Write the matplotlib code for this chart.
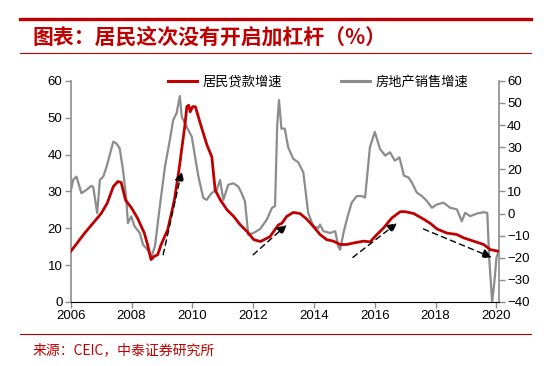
import matplotlib
matplotlib.use("Agg")
import matplotlib.pyplot as plt
from matplotlib.lines import Line2D

# 居民贷款增速 (左轴, %)
loan_t = [2006.00, 2006.46, 2007.00, 2007.20, 2007.40, 2007.55, 2007.66, 2007.80, 2008.00,
          2008.20, 2008.42, 2008.53, 2008.64, 2008.75, 2008.86, 2008.97, 2009.19, 2009.41,
          2009.56, 2009.66, 2009.75, 2009.82, 2009.88, 2009.93, 2010.01, 2010.10, 2010.26,
          2010.48, 2010.64, 2010.75, 2010.92, 2011.14, 2011.36, 2011.58, 2011.80, 2012.02,
          2012.24, 2012.55, 2012.83, 2012.95, 2013.10, 2013.32, 2013.54, 2013.76, 2013.98,
          2014.20, 2014.42, 2014.64, 2014.86, 2015.08, 2015.30, 2015.63, 2015.85, 2016.01,
          2016.29, 2016.56, 2016.84, 2017.00, 2017.28, 2017.60, 2017.83, 2018.05, 2018.37,
          2018.70, 2018.92, 2019.25, 2019.58, 2019.80, 2020.04]
loan_v = [13.7, 18.7, 24.0, 26.8, 31.3, 32.7, 32.4, 27.7, 25.5,
          22.7, 18.7, 15.5, 11.5, 12.4, 12.8, 15.5, 19.6, 27.7,
          35.8, 42.1, 47.6, 53.0, 53.4, 51.6, 53.0, 53.0, 48.5,
          42.6, 39.4, 30.4, 27.7, 25.0, 23.2, 20.9, 19.1, 16.9,
          16.4, 17.7, 20.9, 21.4, 23.2, 24.3, 24.0, 22.5, 20.5,
          18.3, 16.9, 16.5, 15.6, 15.6, 16.0, 16.5, 16.3, 17.8,
          20.1, 22.8, 24.5, 24.5, 24.0, 22.5, 21.3, 19.8, 18.7,
          18.3, 17.4, 16.5, 15.6, 14.2, 13.8]

# 房地产销售增速 (右轴, %)
sale_t = [2006.00, 2006.08, 2006.19, 2006.35, 2006.52, 2006.68, 2006.74, 2006.87, 2006.96,
          2007.07, 2007.18, 2007.40, 2007.50, 2007.61, 2007.72, 2007.83, 2007.88, 2007.99,
          2008.10, 2008.27, 2008.38, 2008.49, 2008.66, 2008.77, 2008.93, 2009.10, 2009.26,
          2009.37, 2009.48, 2009.59, 2009.65, 2009.81, 2009.98, 2010.09, 2010.20, 2010.36,
          2010.47, 2010.63, 2010.80, 2010.91, 2011.02, 2011.18, 2011.35, 2011.51, 2011.62,
          2011.73, 2011.84, 2012.01, 2012.23, 2012.45, 2012.62, 2012.72, 2012.79, 2012.85,
          2012.93, 2013.04, 2013.15, 2013.32, 2013.48, 2013.65, 2013.81, 2013.98, 2014.14,
          2014.20, 2014.31, 2014.53, 2014.70, 2014.80, 2014.86, 2014.97, 2015.08, 2015.24,
          2015.41, 2015.57, 2015.68, 2015.74, 2015.84, 2016.00, 2016.17, 2016.34, 2016.50,
          2016.66, 2016.81, 2016.96, 2017.11, 2017.22, 2017.38, 2017.55, 2017.71, 2017.88,
          2018.04, 2018.26, 2018.48, 2018.70, 2018.86, 2018.97, 2019.14, 2019.36, 2019.58,
          2019.70, 2019.76, 2019.86, 2019.94, 2020.00, 2020.05]
sale_v = [10.0, 15.2, 16.7, 9.2, 10.7, 12.5, 12.0, 0.2, 15.2,
          16.7, 21.2, 32.5, 31.7, 29.5, 19.7, 6.2, -4.3, -1.3,
          -5.8, -8.8, -14.2, -15.7, -19.3, -14.8, 3.2, 21.2, 33.3,
          42.3, 45.3, 53.1, 43.8, 39.3, 34.8, 25.7, 16.7, 7.0,
          6.2, 9.2, 10.7, 15.2, 6.2, 13.0, 13.7, 12.2, 9.2,
          5.5, -9.6, -8.8, -7.0, -2.7, 2.6, 3.4, 39.9, 51.3,
          38.4, 38.4, 30.0, 24.7, 23.2, 18.6, 0.3, -5.8, -6.5,
          -5.0, -8.0, -8.8, -8.0, -14.9, -16.4, -8.8, -2.7, 4.9,
          7.9, 7.9, 7.2, 15.6, 30.0, 36.9, 29.3, 26.2, 27.7,
          23.9, 25.4, 17.1, 16.3, 14.0, 9.5, 7.9, 5.7, 2.6,
          4.1, 4.9, 2.6, 1.9, -3.5, 0.3, -1.2, 0.0, 0.6,
          0.3, -19.5, -40.0, -30.0, -20.0, -18.0]

# 虚线箭头 (起点, 终点), 左轴坐标
arrows = [((2009.04, 12.8), (2009.65, 35.4)),
          ((2012.00, 12.8), (2013.10, 20.9)),
          ((2015.28, 12.1), (2016.73, 21.4)),
          ((2017.60, 19.8), (2019.85, 12.1))]

years = [2006, 2008, 2010, 2012, 2014, 2016, 2018, 2020]

RED = "#C00000"
GRAY = "#8C8C8C"
CJK = ["Noto Sans CJK SC", "DejaVu Sans"]

plt.rcParams["font.family"] = ["Liberation Sans", "Noto Sans CJK SC"]

fig = plt.figure(figsize=(5.44, 3.66), dpi=100)
ax = fig.add_axes([0.130, 0.175, 0.787, 0.604])
ax2 = ax.twinx()

ax.plot(loan_t, loan_v, color=RED, lw=2.0, zorder=3)
ax2.plot(sale_t, sale_v, color=GRAY, lw=1.6, zorder=2)
ax.set_zorder(ax2.get_zorder() + 1)
ax.patch.set_visible(False)

# 箭头
for (x0, y0), (x1, y1) in arrows:
  ax.annotate("", xy=(x1, y1), xytext=(x0, y0),
              arrowprops=dict(arrowstyle="-|>", ls=(0, (4, 3)), lw=1.0,
                              color="black", mutation_scale=14, shrinkA=0, shrinkB=0))

ax.set_xlim(2006, 2020.08)
ax.set_ylim(0, 60)
ax2.set_ylim(-40, 60)
ax.set_xticks(years)
ax.set_xticklabels([str(y) for y in years])
ax.set_yticks(range(0, 61, 10))
ax2.set_yticks(range(-40, 61, 10))

for a in (ax, ax2):
  a.spines["top"].set_visible(False)
  a.tick_params(labelsize=9.5, length=4, width=1, color=GRAY, pad=2)
ax.spines["left"].set_color(GRAY)
ax.spines["right"].set_visible(False)
ax2.spines["left"].set_visible(False)
ax2.spines["right"].set_color(GRAY)
ax2.spines["bottom"].set_visible(False)
ax.spines["bottom"].set_color("black")
ax.spines["left"].set_linewidth(1.2)
ax2.spines["right"].set_linewidth(1.2)

# 图例
handles = [Line2D([], [], color=RED, lw=2.2), Line2D([], [], color=GRAY, lw=2.2)]
fig.legend(handles, ["居民贷款增速", "房地产销售增速"], loc="center", ncol=2,
           bbox_to_anchor=(0.585, 0.775), frameon=False, handlelength=2.2,
           handletextpad=0.4, columnspacing=4.5, prop={"family": CJK, "size": 9.5})

# 标题与来源
fig.add_artist(Line2D([20 / 544, 531 / 544], [1 - 18.5 / 366] * 2, color=RED, lw=2.4))
fig.add_artist(Line2D([20 / 544, 531 / 544], [1 - 53 / 366] * 2, color=RED, lw=0.8))
fig.add_artist(Line2D([20 / 544, 531 / 544], [1 - 334 / 366] * 2, color=RED, lw=0.8))
fig.text(33 / 544, 1 - 37 / 366, "图表：居民这次没有开启加杠杆（%）", color=RED,
         fontsize=15, fontweight="bold", style="italic", family=CJK, va="center")
fig.text(33 / 544, 1 - 350 / 366, "来源：CEIC，中泰证券研究所", color=RED,
         fontsize=10, family=CJK, va="center")

fig.savefig("out.png", dpi=100)
